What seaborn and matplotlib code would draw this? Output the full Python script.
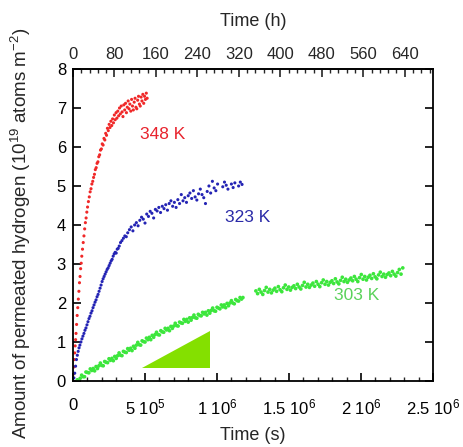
import matplotlib
matplotlib.use("Agg")
import matplotlib.pyplot as plt
from matplotlib.ticker import MultipleLocator
import numpy as np
import pandas as pd
import seaborn as sns

# ---------------- data ----------------
# times in units of 10^3 s, amounts in 10^19 atoms m^-2
t_348 = [0, 3, 6, 9, 12, 15, 18, 21, 25, 29, 33, 37, 41, 45, 49, 53, 57, 61, 66, 71,
         76, 81, 86, 91, 96, 101, 107, 113, 119, 125, 131, 137, 143, 149, 155, 161, 167,
         173, 179, 185, 191, 197, 203, 209, 215, 221, 227, 233, 239, 245, 251, 257, 263,
         269, 275, 281, 287, 293, 299, 305, 311, 317, 323, 329, 335, 341, 347, 353, 359,
         365, 371, 377, 383, 389, 395, 401, 407, 413, 419, 425, 431, 437, 443, 449, 455,
         461, 467, 473, 479, 485, 491, 497, 503, 509, 515]
y_348 = [0.00, 0.18, 0.36, 0.55, 0.72, 0.90, 1.06, 1.22, 1.45, 1.68, 1.88, 2.10, 2.30, 2.52,
         2.68, 2.88, 3.02, 3.20, 3.38, 3.55, 3.72, 3.90, 4.06, 4.18, 4.33, 4.46, 4.60, 4.72,
         4.85, 4.93, 5.05, 5.12, 5.22, 5.30, 5.42, 5.47, 5.58, 5.62, 5.75, 5.80, 5.92, 5.95,
         6.08, 6.05, 6.22, 6.18, 6.35, 6.30, 6.48, 6.42, 6.58, 6.50, 6.66, 6.55, 6.72, 6.62,
         6.82, 6.70, 6.88, 6.74, 6.92, 6.80, 7.00, 6.85, 7.05, 6.90, 6.78, 7.08, 6.95, 7.12,
         6.88, 7.02, 7.18, 6.98, 7.10, 6.92, 7.22, 7.05, 6.95, 7.15, 7.25, 7.02, 6.98, 7.20,
         7.30, 7.10, 7.05, 7.28, 7.18, 7.35, 7.12, 7.30, 7.22, 7.38, 7.25]

t_323 = [0, 6, 12, 18, 24, 30, 36, 42, 48, 55, 62, 69, 76, 83, 90, 97, 104, 111, 118, 125,
         132, 139, 146, 153, 160, 167, 174, 181, 188, 195, 202, 209, 216, 223, 230, 237,
         244, 251, 258, 265, 272, 279, 286, 293, 300, 307, 314, 321, 330, 340, 350, 360,
         370, 380, 392, 404, 416, 428, 440, 452, 464, 476, 488, 500, 512, 524, 536, 548,
         560, 572, 584, 596, 608, 620, 632, 644, 656, 668, 680, 692, 704, 716, 728, 740,
         752, 764, 776, 788, 800, 812, 824, 836, 848, 860, 872, 884, 896, 908, 920, 932,
         944, 956, 968, 980, 992, 1004, 1040, 1052, 1064, 1076, 1100, 1112, 1124, 1150,
         1162, 1174]
y_323 = [0.00, 0.08, 0.20, 0.38, 0.55, 0.66, 0.76, 0.85, 0.92, 1.00, 1.08, 1.15, 1.22, 1.30,
         1.36, 1.44, 1.52, 1.60, 1.66, 1.74, 1.80, 1.88, 1.95, 2.02, 2.08, 2.16, 2.22, 2.30,
         2.38, 2.46, 2.55, 2.62, 2.68, 2.74, 2.80, 2.86, 2.90, 2.96, 3.02, 3.08, 3.12, 3.20,
         3.26, 3.30, 3.28, 3.38, 3.40, 3.46, 3.55, 3.60, 3.66, 3.72, 3.70, 3.80, 3.88, 3.95,
         3.85, 4.00, 4.06, 3.98, 4.12, 4.20, 4.15, 4.05, 4.28, 4.22, 4.35, 4.30, 4.18, 4.40,
         4.36, 4.45, 4.32, 4.48, 4.42, 4.52, 4.38, 4.55, 4.62, 4.48, 4.58, 4.45, 4.65, 4.55,
         4.78, 4.62, 4.70, 4.58, 4.75, 4.82, 4.68, 4.88, 4.72, 4.64, 4.80, 4.92, 4.78, 4.70,
         4.55, 4.86, 5.00, 4.82, 5.12, 4.95, 4.88, 5.05, 4.98, 5.10, 5.02, 4.92, 5.05, 4.96,
         5.08, 5.00, 5.10, 5.04]

t_303 = [30, 40, 50, 60, 70, 80, 90, 100, 110, 120, 130, 140, 150, 160, 170, 180, 190, 200,
         210, 220, 230, 240, 250, 260, 270, 280, 290, 300, 310, 320, 330, 340, 350, 360,
         370, 380, 390, 400, 410, 420, 430, 440, 450, 460, 470, 480, 490, 500, 510, 520,
         530, 540, 550, 560, 570, 580, 590, 600, 610, 620, 630, 640, 650, 660, 670, 680,
         690, 700, 710, 720, 730, 740, 750, 760, 770, 780, 790, 800, 810, 820, 830, 840,
         850, 860, 870, 880, 890, 900, 910, 920, 930, 940, 950, 960, 970, 980, 990, 1000,
         1010, 1020, 1030, 1040, 1050, 1060, 1070, 1080, 1090, 1100, 1110, 1120, 1130,
         1140, 1150, 1160, 1170, 1180,
         1270, 1282, 1294, 1306, 1318, 1330, 1342, 1354, 1366, 1378, 1390, 1402, 1414,
         1426, 1438, 1450, 1462, 1474, 1486, 1498, 1510, 1522, 1534, 1546, 1558, 1570,
         1582, 1594, 1606, 1618, 1630, 1642, 1654, 1666, 1678, 1690, 1702, 1714, 1726,
         1738, 1750, 1762, 1774, 1786, 1798, 1810, 1822, 1834, 1846, 1858, 1870, 1882,
         1894, 1906, 1918, 1930, 1942, 1954, 1966, 1978, 1990, 2002, 2014, 2026, 2038,
         2050, 2062, 2074, 2086, 2098, 2110, 2122, 2134, 2146, 2158, 2170, 2182, 2194,
         2206, 2218, 2230, 2242, 2254, 2266, 2278, 2290]
y_303 = [0.03, 0.00, 0.07, 0.15, 0.11, 0.11, 0.23, 0.22, 0.21, 0.31, 0.27, 0.32, 0.26, 0.37,
         0.32, 0.39, 0.46, 0.40, 0.39, 0.50, 0.48, 0.47, 0.57, 0.53, 0.58, 0.52, 0.63, 0.58,
         0.65, 0.72, 0.66, 0.65, 0.76, 0.74, 0.73, 0.83, 0.79, 0.84, 0.78, 0.89, 0.84, 0.92,
         0.99, 0.93, 0.92, 1.03, 1.01, 1.00, 1.10, 1.06, 1.12, 1.06, 1.17, 1.12, 1.19, 1.25,
         1.19, 1.18, 1.29, 1.26, 1.25, 1.35, 1.31, 1.35, 1.29, 1.40, 1.35, 1.41, 1.48, 1.42,
         1.41, 1.51, 1.49, 1.48, 1.58, 1.53, 1.58, 1.51, 1.62, 1.56, 1.63, 1.69, 1.62, 1.61,
         1.71, 1.68, 1.67, 1.76, 1.72, 1.76, 1.69, 1.80, 1.74, 1.81, 1.87, 1.80, 1.79, 1.89,
         1.87, 1.85, 1.95, 1.90, 1.95, 1.88, 1.99, 1.93, 2.00, 2.06, 2.00, 1.98, 2.09, 2.06,
         2.05, 2.14, 2.10, 2.14,
         2.31, 2.24, 2.35, 2.28, 2.22, 2.32, 2.40, 2.28, 2.35, 2.26, 2.33, 2.38, 2.30, 2.42,
         2.34, 2.29, 2.39, 2.46, 2.35, 2.41, 2.33, 2.40, 2.44, 2.37, 2.48, 2.41, 2.36, 2.45,
         2.53, 2.41, 2.48, 2.40, 2.46, 2.51, 2.43, 2.55, 2.48, 2.42, 2.52, 2.59, 2.48, 2.55,
         2.46, 2.53, 2.57, 2.50, 2.62, 2.54, 2.49, 2.58, 2.66, 2.55, 2.61, 2.53, 2.59, 2.64,
         2.57, 2.68, 2.61, 2.55, 2.65, 2.73, 2.61, 2.68, 2.59, 2.66, 2.71, 2.63, 2.75, 2.67,
         2.62, 2.72, 2.79, 2.68, 2.74, 2.66, 2.73, 2.77, 2.70, 2.81, 2.74, 2.69, 2.78, 2.86,
         2.74, 2.90]

series_names = ["348 K", "323 K", "303 K"]
series_colors = ["#f02828", "#2424b4", "#3ce63c"]
series_sizes = [5, 5, 7]
label_colors = ["#e8232d", "#2a2aa8", "#5ad25a"]
label_pos_s = [6.2e5, 12.15e5, 19.7e5]
label_pos_y = [6.31, 4.20, 2.20]

# shaded triangle (time in s, amount)
tri_t = [4.77e5, 9.51e5, 9.51e5]
tri_y = [0.33, 0.33, 1.27]
tri_color = "#84e000"

x_tick_values = [0, 5e5, 1e6, 1.5e6, 2e6, 2.5e6]
x_tick_labels = ["0", r"5 10$^{5}$", r"1 10$^{6}$", r"1.5 10$^{6}$", r"2 10$^{6}$", r"2.5 10$^{6}$"]
h_tick_values = [0, 80, 160, 240, 320, 400, 480, 560, 640]

# ---------------- figure ----------------
sns.set_style("ticks")
plt.rcParams["font.family"] = ["Liberation Sans", "DejaVu Sans"]
plt.rcParams["mathtext.default"] = "regular"

frames = []
for name, t, y in zip(series_names, [t_348, t_323, t_303], [y_348, y_323, y_303]):
    frames.append(pd.DataFrame({"time_s": np.array(t, float) * 1e3,
                                "amount": y, "temperature": name}))
df = pd.concat(frames, ignore_index=True)

fig = plt.figure(figsize=(4.64, 4.47), dpi=100)
ax = fig.add_axes([73 / 464, 1 - 381 / 447, 360 / 464, 312 / 447])

ax.fill(tri_t, tri_y, color=tri_color, lw=0, zorder=1)

sns.scatterplot(data=df, x="time_s", y="amount", hue="temperature", size="temperature",
                palette=dict(zip(series_names, series_colors)),
                sizes=dict(zip(series_names, series_sizes)),
                linewidth=0, marker="o", legend=False, ax=ax, zorder=2)

for name, c, xs, ys in zip(series_names, label_colors, label_pos_s, label_pos_y):
    ax.text(xs, ys, name, color=c, fontsize=12.5, ha="center", va="center")

ax.set_xlim(0, 2.5e6)
ax.set_ylim(0, 8)
ax.set_xticks(x_tick_values)
ax.set_xticklabels(x_tick_labels)
ax.xaxis.set_minor_locator(MultipleLocator(1e5))
ax.set_yticks(range(0, 9))

for sp in ax.spines.values():
    sp.set_linewidth(1.3)
    sp.set_color("black")

ax.tick_params(axis="both", which="major", direction="in", length=6, width=1.2,
               labelsize=12, colors="black")
ax.tick_params(axis="x", which="minor", direction="in", length=3, width=1.0)
ax.tick_params(axis="x", which="both", top=False, pad=12)
ax.tick_params(axis="y", which="both", right=True, pad=5)

sec = ax.secondary_xaxis("top", functions=(lambda s: s / 3600.0, lambda h: h * 3600.0))
sec.set_xticks(h_tick_values)
sec.xaxis.set_minor_locator(MultipleLocator(16))
sec.tick_params(axis="x", which="major", direction="in", length=6, width=1.2,
                labelsize=12, pad=5)
sec.tick_params(axis="x", which="minor", direction="in", length=3, width=1.0)
sec.spines["top"].set_linewidth(1.3)
sec.set_xlabel("Time (h)", fontsize=13, labelpad=15)

ax.set_xlabel("Time (s)", fontsize=13, labelpad=7)
ax.set_ylabel(r"Amount of permeated hydrogen (10$^{19}$ atoms m$^{-2}$)", fontsize=13.5)
ax.yaxis.set_label_coords(-0.111, 0.474)

fig.savefig("out.png", dpi=100, facecolor="white")
